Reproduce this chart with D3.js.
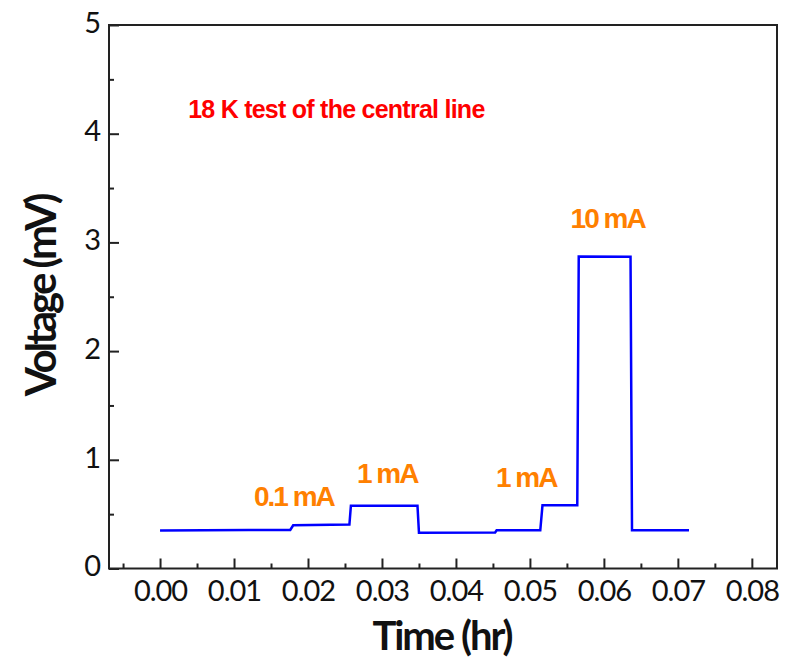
<!DOCTYPE html>
<html>
<head>
<meta charset="utf-8">
<script src="https://cdn.jsdelivr.net/npm/d3@7"></script>
<style>
  body { margin: 0; background: #fff; }
  svg { display: block; }
</style>
</head>
<body>
<svg id="chart" width="796" height="659"></svg>
<script>
// measured trace: time (hr) vs voltage (mV)
const timeHr = [0.0000, 0.0060, 0.0120, 0.0176, 0.0180, 0.0256, 0.0258, 0.0348, 0.0350,
                0.0453, 0.0455, 0.0514, 0.0517, 0.0564, 0.0566, 0.0636, 0.0638, 0.0715];
const voltMv = [0.350, 0.352, 0.354, 0.354, 0.398, 0.405, 0.578, 0.578, 0.330,
                0.332, 0.352, 0.352, 0.582, 0.582, 2.870, 2.868, 0.352, 0.352];

const xTicks = [0.00, 0.01, 0.02, 0.03, 0.04, 0.05, 0.06, 0.07, 0.08];
const xMinor = [-0.005, 0.005, 0.015, 0.025, 0.035, 0.045, 0.055, 0.065, 0.075];
const yTicks = [0, 1, 2, 3, 4, 5];
const yMinor = [0.5, 1.5, 2.5, 3.5, 4.5];

// current labels next to each step
const currentLabels = ['0.1 mA', '1 mA', '1 mA', '10 mA'];
const labelTime = [0.0181, 0.0307, 0.0495, 0.0605];
const labelVolt = [0.575, 0.787, 0.753, 3.133];

const titleText = '18 K test of the central line';

const svg = d3.select('#chart');
const plotL = 109, plotR = 777, plotT = 25, plotB = 568.5;

const x = d3.scaleLinear().domain([-0.0069, 0.0834]).range([plotL, plotR]);
const y = d3.scaleLinear().domain([0, 5]).range([plotB, plotT]);

const tickFont = 'Lato, "Open Sans", sans-serif';
const axisColor = '#222';

// frame
svg.append('rect')
    .attr('x', plotL).attr('y', plotT)
    .attr('width', plotR - plotL).attr('height', plotB - plotT)
    .attr('fill', 'none')
    .attr('stroke', axisColor)
    .attr('stroke-width', 2);

// x axis, ticks pointing inwards
const gx = svg.append('g')
    .attr('transform', 'translate(0,' + plotB + ')')
    .call(d3.axisBottom(x).tickValues(xTicks).tickSize(-10).tickPadding(12)
      .tickFormat(d3.format('.2f')));
svg.append('g')
    .attr('transform', 'translate(0,' + plotB + ')')
    .call(d3.axisBottom(x).tickValues(xMinor).tickSize(-5).tickFormat(''));

// y axis
const gy = svg.append('g')
    .attr('transform', 'translate(' + plotL + ',0)')
    .call(d3.axisLeft(y).tickValues(yTicks).tickSize(-10).tickPadding(9)
      .tickFormat(d3.format('d')));
svg.append('g')
    .attr('transform', 'translate(' + plotL + ',0)')
    .call(d3.axisLeft(y).tickValues(yMinor).tickSize(-5).tickFormat(''));

svg.selectAll('.domain').remove();
svg.selectAll('.tick line').attr('stroke', axisColor).attr('stroke-width', 2);
svg.selectAll('.tick text')
    .attr('fill', '#111')
    .style('font-family', tickFont)
    .style('font-size', '29px')
    .style('letter-spacing', '-1px');
gy.selectAll('.tick text').attr('dy', '0.25em');

// axis titles
svg.append('text')
    .attr('x', 442).attr('y', 650)
    .attr('text-anchor', 'middle')
    .style('font-family', tickFont)
    .style('font-weight', 'bold')
    .style('font-size', '40px')
    .style('letter-spacing', '-2px')
    .attr('fill', '#111')
    .text('Time (hr)');

svg.append('text')
    .attr('transform', 'translate(56,' + 296 + ') rotate(-90)')
    .attr('text-anchor', 'middle')
    .style('font-family', tickFont)
    .style('font-weight', 'bold')
    .style('font-size', '42px')
    .style('letter-spacing', '-3px')
    .attr('fill', '#111')
    .text('Voltage (mV)');

// trace
const line = d3.line()
    .x((d, i) => x(timeHr[i]))
    .y((d, i) => y(voltMv[i]));

svg.append('path')
    .datum(voltMv)
    .attr('fill', 'none')
    .attr('stroke', '#0000ff')
    .attr('stroke-width', 2.5)
    .attr('stroke-linejoin', 'miter')
    .attr('d', line);

// annotations
const annoFont = '"Liberation Sans", Arial, sans-serif';
svg.selectAll('.cur-label')
    .data(currentLabels)
  .enter().append('text')
    .attr('class', 'cur-label')
    .attr('x', (d, i) => x(labelTime[i]))
    .attr('y', (d, i) => y(labelVolt[i]))
    .attr('text-anchor', 'middle')
    .style('font-family', annoFont)
    .style('font-weight', 'bold')
    .style('font-size', '28px')
    .style('letter-spacing', '-2px')
    .attr('fill', '#ff8000')
    .text(d => d);

svg.append('text')
    .attr('x', x(0.0038)).attr('y', y(4.145))
    .style('font-family', annoFont)
    .style('font-weight', 'bold')
    .style('font-size', '25px')
    .style('letter-spacing', '-0.75px')
    .attr('fill', '#ff0000')
    .text(titleText);
</script>
</body>
</html>
